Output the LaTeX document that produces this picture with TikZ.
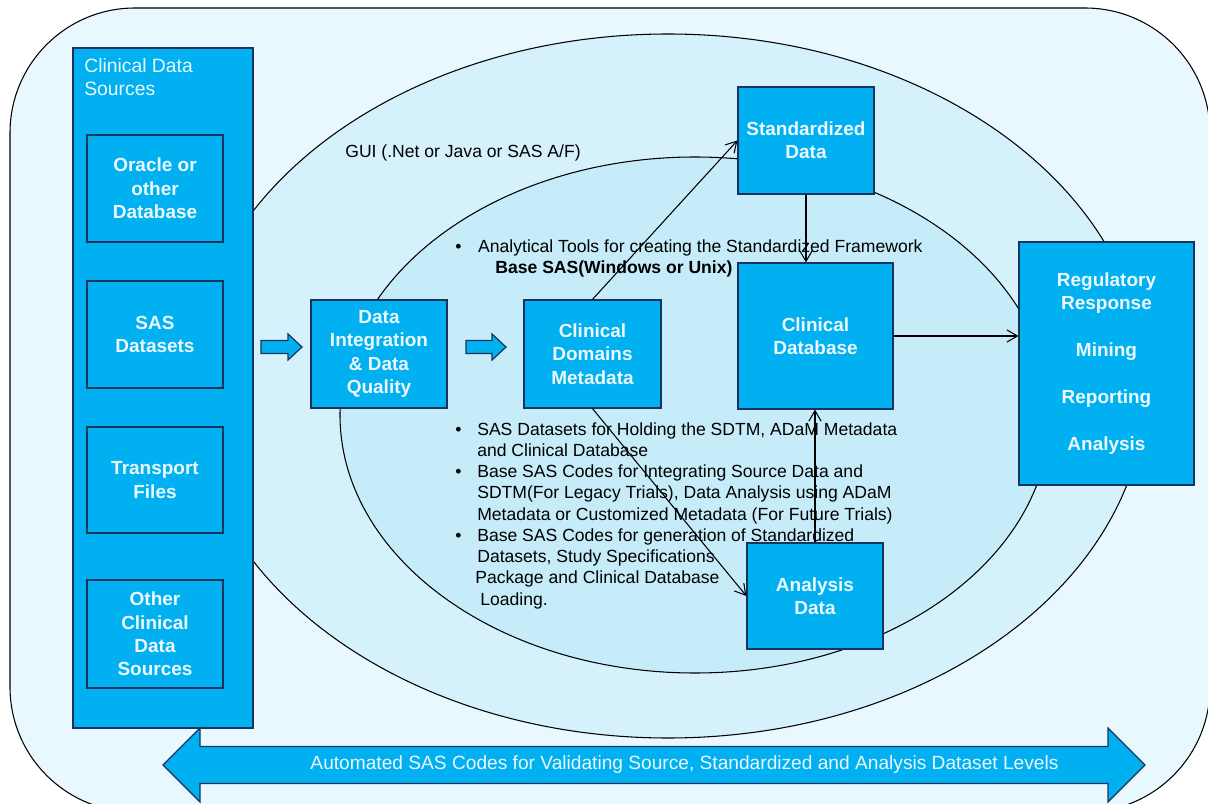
\documentclass[tikz,border=0pt]{standalone}
\usepackage{fontspec}
\setmainfont{Liberation Sans}
\usetikzlibrary{arrows.meta}
\definecolor{boxblue}{RGB}{0,176,240}
\definecolor{boxline}{RGB}{24,52,92}
\definecolor{boxtext}{RGB}{236,248,255}
\definecolor{paleout}{RGB}{232,248,254}
\definecolor{palemid}{RGB}{213,241,252}
\definecolor{paleinn}{RGB}{198,236,250}
\begin{document}
\begin{tikzpicture}[x=0.02cm, y=-0.02cm,
		blk/.style={draw=boxline, fill=boxblue, line width=0.7pt, text=boxtext, inner sep=0pt,
			align=center, font=\fontsize{10.8}{13.3}\selectfont\bfseries},
		note/.style={anchor=north west, inner sep=0pt, align=left, font=\fontsize{10}{12.1}\selectfont},
		link/.style={line width=0.6pt, -{Straight Barb[length=6pt,width=7pt]}},
		ring/.style={draw=black, line width=0.6pt}]
	\useasboundingbox (0, 0) rectangle (1208, 804);
	\clip (0, 0) rectangle (1208, 804);
	% background and the two rings
	\draw [ring, fill=paleout, rounded corners=2.5cm] (10, 8) rectangle (1210, 812);
	\draw [ring, fill=palemid] (668, 386) ellipse [x radius=478, y radius=352];
	\draw [ring, fill=paleinn] (695, 415) ellipse [x radius=355, y radius=258];
	\node [note] (gui) at (345, 144) {GUI (.Net or Java or SAS A/F)};
	% clinical data sources
	\node [blk, minimum width=3.6cm, minimum height=13.6cm] (src) at (163, 388) {};
	\node [anchor=north west, inner sep=0pt, align=left, text=boxtext, font=\fontsize{11}{13}\selectfont] (srctitle) at (84, 58) {Clinical Data\\Sources};
	\node [blk, minimum width=2.72cm, minimum height=2.14cm] (orcl) at (155, 188.5) {Oracle or\\other\\Database};
	\node [blk, minimum width=2.72cm, minimum height=2.14cm] (sasds) at (155, 334.5) {SAS\\Datasets};
	\node [blk, minimum width=2.72cm, minimum height=2.12cm] (xpt) at (155, 480) {Transport\\Files};
	\node [blk, minimum width=2.72cm, minimum height=2.16cm] (othr) at (155, 634) {Other\\Clinical\\Data\\Sources};
	% processing boxes
	\node [blk, minimum width=2.72cm, minimum height=2.16cm] (dint) at (379, 354) {Data\\Integration\\\& Data\\Quality};
	\node [blk, minimum width=2.74cm, minimum height=2.16cm] (cdm) at (592.5, 354) {Clinical\\Domains\\Metadata};
	\node [blk, minimum width=2.72cm, minimum height=2.14cm] (std) at (806, 140.5) {Standardized\\Data};
	\node [blk, minimum width=3.1cm, minimum height=2.92cm] (cdb) at (815.5, 336) {Clinical\\Database};
	\node [blk, minimum width=2.72cm, minimum height=2.12cm] (ana) at (815, 596) {Analysis\\Data};
	\node [blk, minimum width=3.5cm, minimum height=4.86cm] (reg) at (1106.5, 363.5) {Regulatory\\Response\\[13.4pt]Mining\\[13.4pt]Reporting\\[13.4pt]Analysis};
	% block arrows
	\draw [draw=boxline, fill=boxblue, line width=0.7pt] (261, 340.5) -- (288, 340.5) -- (288, 334) -- (302, 347) -- (288, 360) -- (288, 353.5) -- (261, 353.5) -- cycle;
	\draw [draw=boxline, fill=boxblue, line width=0.7pt] (466, 340.5) -- (492, 340.5) -- (492, 334) -- (506, 347) -- (492, 360) -- (492, 353.5) -- (466, 353.5) -- cycle;
	\draw [draw=boxline, fill=boxblue, line width=0.7pt] (163, 765) -- (200, 728) -- (200, 746.5) -- (1108, 746.5) -- (1108, 728) -- (1145, 765)
		-- (1108, 802) -- (1108, 783.5) -- (200, 783.5) -- (200, 802) -- cycle;
	\node [text=boxtext, inner sep=0pt, font=\fontsize{10.9}{13}\selectfont] (valid) at (684.5, 765) {Automated SAS Codes for Validating Source, Standardized and Analysis Dataset Levels};
	% notes
	\node [note] (tools) at (455, 239) {\makebox[13pt][l]{\textbullet}Analytical Tools for creating the Standardized Framework\\
		\hspace*{22.8pt}\textbf{Base SAS(Windows or Unix)}};
	\node [note] (codes) at (455, 422) {\makebox[12.5pt][l]{\textbullet}SAS Datasets for Holding the SDTM, ADaM Metadata\\
		\hspace*{12.5pt}and Clinical Database\\
		\makebox[12.5pt][l]{\textbullet}Base SAS Codes for Integrating Source Data and\\
		\hspace*{12.5pt}SDTM(For Legacy Trials), Data Analysis using ADaM\\
		\hspace*{12.5pt}Metadata or Customized Metadata (For Future Trials)\\
		\makebox[12.5pt][l]{\textbullet}Base SAS Codes for generation of Standardized\\
		\hspace*{12.5pt}Datasets, Study Specifications\\
		\hspace*{11.4pt}Package and Clinical Database\\
		\hspace*{14.2pt}Loading.};
	% connectors
	\draw [link] (cdm.north) -- (std.west);
	\draw [link] (std.south) -- (std.south |- cdb.north);
	\draw [link] (cdm.south) -- (ana.west);
	\draw [link] (ana.north) -- (ana.north |- cdb.south);
	\draw [link] (cdb.east) -- (cdb.east -| reg.west);
\end{tikzpicture}
\end{document}
